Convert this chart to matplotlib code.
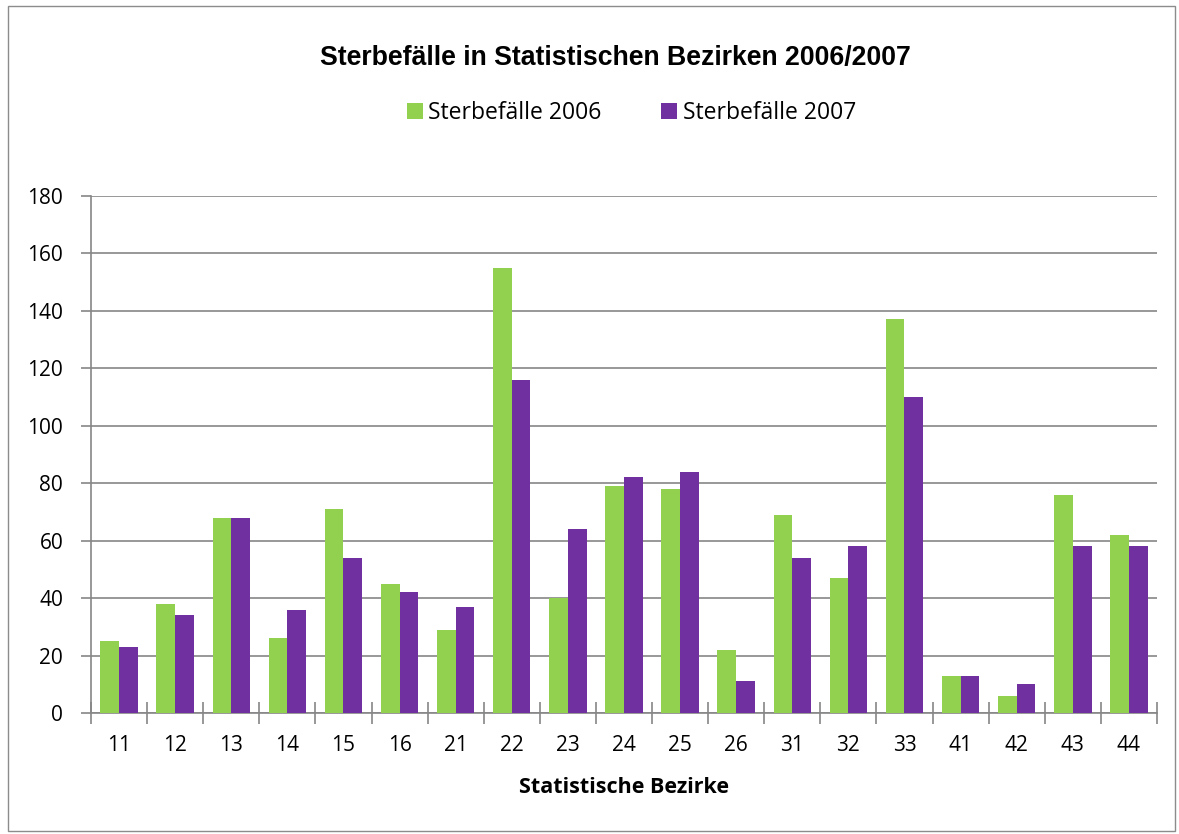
import matplotlib.pyplot as plt
import numpy as np
from matplotlib.patches import Rectangle

bezirke = ["11", "12", "13", "14", "15", "16", "21", "22", "23", "24",
           "25", "26", "31", "32", "33", "41", "42", "43", "44"]
sterbefaelle_2006 = [25, 38, 68, 26, 71, 45, 29, 155, 40, 79,
                     78, 22, 69, 47, 137, 13, 6, 76, 62]
sterbefaelle_2007 = [23, 34, 68, 36, 54, 42, 37, 116, 64, 82,
                     84, 11, 54, 58, 110, 13, 10, 58, 58]

green = "#92D050"
purple = "#7030A0"
grey = "#868686"
label_font = ["Open Sans", "DejaVu Sans"]

fig = plt.figure(figsize=(11.79, 8.34), dpi=100)
ax = fig.add_axes([0.0772, 0.1451, 0.9041, 0.6199])

x = np.arange(len(bezirke))
w = 1 / 3
ax.bar(x - w / 2, sterbefaelle_2006, width=w, color=green, label="Sterbefälle 2006", zorder=3)
ax.bar(x + w / 2, sterbefaelle_2007, width=w, color=purple, label="Sterbefälle 2007", zorder=3)

ax.set_xlim(-0.5, len(bezirke) - 0.5)
ax.set_ylim(0, 180)
ax.set_yticks(range(0, 181, 20))
ax.yaxis.grid(True, color=grey, linewidth=1.2, zorder=0)

# category labels in the middle, tick marks on the boundaries
ax.set_xticks(x)
ax.set_xticklabels(bezirke, family=label_font, fontsize=15)
ax.set_xticks(np.arange(-0.5, len(bezirke)), minor=True)
ax.tick_params(axis="x", which="major", length=0, pad=16)
ax.tick_params(axis="x", which="minor", length=16, direction="inout", color=grey, width=1.2)
ax.tick_params(axis="y", length=7, direction="out", color=grey, width=1.2, pad=13)
for lab in ax.get_yticklabels():
    lab.set_family(label_font)
    lab.set_fontsize(15)

for side in ["top", "right"]:
    ax.spines[side].set_visible(False)
for side in ["left", "bottom"]:
    ax.spines[side].set_color(grey)
    ax.spines[side].set_linewidth(1.2)

ax.set_xlabel("Statistische Bezirke", family=label_font, fontsize=15.5, fontweight="bold", labelpad=15)

fig.text(0.5216, 0.930, "Sterbefälle in Statistischen Bezirken 2006/2007",
         ha="center", va="center", family=["Liberation Sans", "DejaVu Sans"],
         fontsize=19.2, fontweight="bold")

fig.legend(loc="center", bbox_to_anchor=(0.5356, 0.8645), ncol=2, frameon=False,
           prop={"family": label_font, "size": 16.5}, handlelength=0.7, handleheight=0.7,
           handletextpad=0.25, columnspacing=2.6)

# outer chart frame
fig.patches.append(Rectangle((0.007, 0.003), 0.99, 0.99, transform=fig.transFigure,
                             fill=False, edgecolor="#8c8c8c", linewidth=1))

fig.savefig("out.png", dpi=100)
